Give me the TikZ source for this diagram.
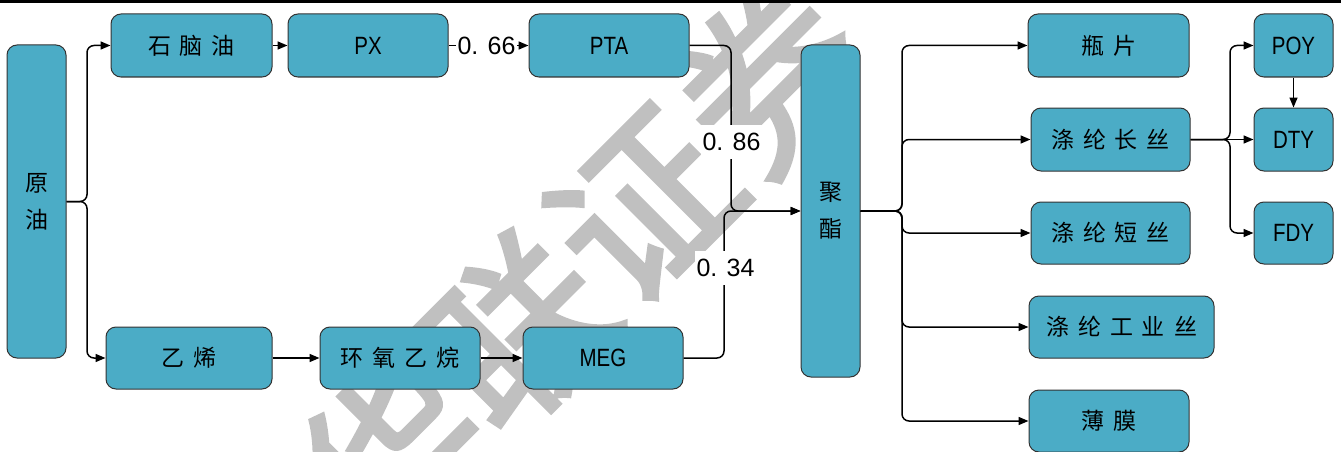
\documentclass[tikz,border=0pt]{standalone}
\usepackage{fontspec}
\setmainfont{Liberation Sans}
\newfontfamily\cjk{Noto Sans CJK SC}
\newfontfamily\wmfont[FakeBold=2.5]{Noto Sans CJK SC}
\newfontfamily\latn[FakeStretch=0.82]{Liberation Sans}
\usetikzlibrary{arrows.meta}
\definecolor{boxc}{HTML}{4BACC6}
\definecolor{wmc}{HTML}{C0C0C0}
\newcommand{\gp}{\hspace{9pt}}
\tikzset{
 box/.style={draw=black!80, line width=1pt, fill=boxc, rounded corners=10pt, inner sep=0pt},
 cn/.style={box, font=\cjk\fontsize{23}{37}\selectfont, align=center},
 lt/.style={box, font=\latn\fontsize{25}{30}\selectfont},
 conn/.style={line width=1.5pt, rounded corners=7pt, -{Triangle[length=10pt,width=8pt]}},
 lab/.style={fill=white, inner xsep=2pt, inner ysep=8pt, font=\fontsize{25}{30}\selectfont},
 wm/.style={rotate=45, text=wmc, font=\wmfont\fontsize{178}{178}\selectfont},
}
\begin{document}
\begin{tikzpicture}[x=1pt,y=-1pt]
\useasboundingbox (0,0) rectangle (1341,452);
% watermark
\node[wm] (wmark) at (580,268) {华联证券};
\fill[black] (0,0) rectangle (1341,3.5);

% nodes
\node[cn, minimum width=59pt, minimum height=313pt] (yy) at (36.5,201.5) {原\\油};
\node[cn, minimum width=161pt, minimum height=63pt] (snn) at (191.5,45.5) {石\gp 脑\gp 油};
\node[lt, minimum width=160pt, minimum height=63pt] (px) at (368,45.5) {PX};
\node[lt, minimum width=160pt, minimum height=63pt] (pta) at (609,45.5) {PTA};
\node[cn, minimum width=166pt, minimum height=62pt] (yx) at (189,358) {乙\gp 烯};
\node[cn, minimum width=160pt, minimum height=62pt] (hy) at (400,358) {环\gp 氧\gp 乙\gp 烷};
\node[lt, minimum width=160pt, minimum height=62pt] (meg) at (603,358) {MEG};
\node[cn, minimum width=59pt, minimum height=332pt] (jz) at (830.5,211) {聚\\酯};
\node[cn, minimum width=161pt, minimum height=63pt] (pp) at (1108.5,45.5) {瓶\gp 片};
\node[cn, minimum width=159pt, minimum height=63pt] (cs) at (1110.5,139.5) {涤\gp 纶\gp 长\gp 丝};
\node[cn, minimum width=159pt, minimum height=62pt] (ds) at (1110.5,233) {涤\gp 纶\gp 短\gp 丝};
\node[cn, minimum width=185pt, minimum height=62pt] (gy) at (1121.5,327) {涤\gp 纶\gp 工\gp 业\gp 丝};
\node[cn, minimum width=160pt, minimum height=62pt] (bm) at (1109,421) {薄\gp 膜};
\node[lt, minimum width=79pt, minimum height=63pt] (poy) at (1293.5,45.5) {POY};
\node[lt, minimum width=79pt, minimum height=63pt] (dty) at (1293.5,139.5) {DTY};
\node[lt, minimum width=79pt, minimum height=62pt] (fdy) at (1293.5,233) {FDY};

% connectors
\coordinate (s1) at (87,201.5);
\draw[conn] (yy.east) -- (s1) |- (snn.west);
\draw[conn] (yy.east) -- (s1) |- (yx.west);
\draw[conn] (snn.east) -- (px.west);
\draw[conn] (px.east) -- (pta.west);
\draw[conn] (yx.east) -- (hy.west);
\draw[conn] (hy.east) -- (meg.west);
\coordinate (k1) at (731,211);
\coordinate (k2) at (724,211);
\draw[conn] (pta.east) -| (k1) -- (jz.west);
\draw[conn] (meg.east) -| (k2) -- (jz.west);
\node[lab] (l66) at (486.5,45.5) {0. 66};
\node[lab] (l86) at (731.5,142) {0. 86};
\node[lab] (l34) at (725.5,268) {0. 34};

\coordinate (s2) at (902,211);
\foreach \t in {pp,cs,ds,gy,bm} {
  \draw[conn] (jz.east) -- (s2) |- (\t.west);
}
\coordinate (s3) at (1230,139.5);
\draw[conn] (cs.east) -- (s3) |- (poy.west);
\draw[conn] (cs.east) -- (dty.west);
\draw[conn] (cs.east) -- (s3) |- (fdy.west);
\draw[conn] (poy.south) -- (dty.north);
\end{tikzpicture}
\end{document}
